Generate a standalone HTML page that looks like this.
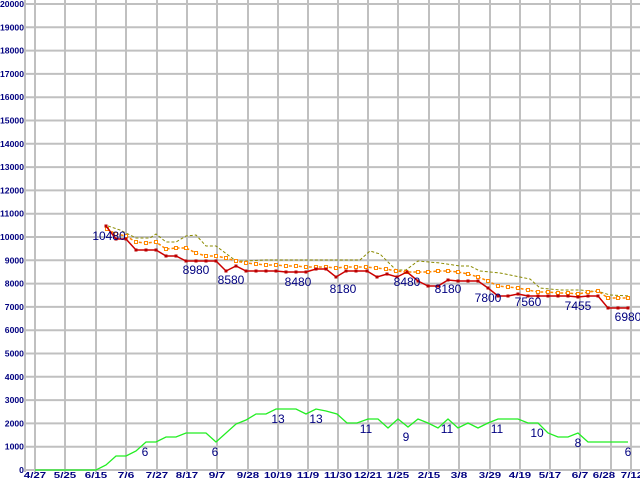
<!DOCTYPE html><html><head><style>body{margin:0;background:#fff}svg{display:block}</style></head><body>
<svg width="640" height="480" xmlns="http://www.w3.org/2000/svg" font-family="Liberation Sans, sans-serif">
<rect width="640" height="480" fill="#fff"/>
<g stroke="#c0c0c0" stroke-width="2" id="grid"></g>
<g id="g"></g>
<script>
const svgns="http://www.w3.org/2000/svg";
const grid=document.getElementById('grid'),g=document.getElementById('g');
function el(p,t,a,txt){const e=document.createElementNS(svgns,t);for(const k in a)e.setAttribute(k,a[k]);if(txt!==undefined)e.textContent=txt;p.appendChild(e);return e;}
for(let i=0;i<=20;i++){const y=470-i*23.3;el(grid,'line',{x1:25,x2:640,y1:y,y2:y});
const s=String(i*1000);const w=s.length*4.8;
el(g,'text',{x:24-w,y:y+3,'font-size':'8.5','font-weight':'bold',fill:'#000080',textLength:w,lengthAdjust:'spacingAndGlyphs'},s);}
const xs=[35,65,96,126,157,187,217,248,278,308,338,368,398,429,459,490,520,550,580,611,631];
const xl=['4/27','5/25','6/15','7/6','7/27','8/17','9/7','9/28','10/19','11/9','11/30','12/21','1/25','2/15','3/8','3/29','4/19','5/17','6/7','6/28','7/12'];
el(grid,'line',{x1:25,x2:25,y1:0,y2:472});
xs.forEach((x,i)=>{el(grid,'line',{x1:x,x2:x,y1:0,y2:472});
const w=xl[i].length*5.6;let cx=i==19?x-7:(i==20?x+1:x);
el(g,'text',{x:cx-w/2,y:478,'font-size':'8.5','font-weight':'bold',fill:'#000080',textLength:w,lengthAdjust:'spacingAndGlyphs'},xl[i]);});
function poly(pts,a){el(g,'polyline',Object.assign({points:pts.map(p=>p.join(',')).join(' '),fill:'none'},a));}
const green=[[35,470],[96,470],[106,465],[116,456],[126,456],[136,451],[146,442],[156,442],[166,437],[176,437],[186,433],[206,433],[216,442],[236,424],[246,420],[256,414],[266,414],[276,409],[296,409],[306,414],[316,409],[326,411],[337,414],[347,423],[357,423],[368,419],[378,419],[388,428],[398,419],[408,427],[418,419],[428,423],[438,428],[448,419],[458,428],[468,423],[478,428],[488,423],[498,419],[518,419],[528,423],[538,423],[548,433],[558,437],[568,437],[578,433],[588,442],[628,442]];
poly(green,{stroke:'#22ee22','stroke-width':1.3});
const olive=[[108,226],[120,230],[136,238],[150,238],[156,234],[166,242],[176,242],[186,236],[196,235],[206,246],[216,246],[236,261],[246,261],[266,260],[336,260],[360,260],[370,251],[380,254],[396,270],[406,270],[418,261],[440,263],[460,266],[470,266],[480,271],[500,273],[530,279],[540,288],[560,290],[580,290],[600,292],[610,295],[630,296]];
poly(olive,{stroke:'#8b8b00','stroke-width':1,'stroke-dasharray':'3,2'});
const orange=[[107,229],[116,234],[126,236],[136,242],[146,243],[156,242],[166,249],[176,248],[186,248],[196,253],[206,256],[216,256],[226,258],[236,261],[246,263],[256,264],[266,265],[276,265],[286,266],[296,266],[306,267],[316,267],[326,267],[336,268],[346,267],[356,267],[366,267],[376,268],[386,269],[396,271],[406,272],[418,272],[428,272],[438,271],[448,271],[458,272],[468,274],[478,277],[488,281],[498,286],[508,287],[518,288],[528,290],[538,292],[548,292],[558,293],[568,293],[578,294],[588,292],[598,291],[608,298],[618,298],[628,298]];
poly(orange,{stroke:'#ff8800','stroke-width':1.5,'stroke-dasharray':'3,2'});
orange.forEach(p=>el(g,'rect',{x:p[0]-1.5,y:p[1]-1.5,width:3,height:3,fill:'#fff',stroke:'#ff8800','stroke-width':1}));
const red=[[106,226],[116,239],[126,239],[136,250],[146,250],[156,250],[166,256],[176,256],[186,261],[196,261],[206,261],[216,261],[226,271],[236,266],[246,271],[256,271],[266,271],[276,271],[286,272],[296,272],[306,272],[316,269],[326,269],[336,277],[346,271],[356,271],[367,271],[377,277],[387,274],[397,277],[407,272],[418,281],[428,286],[438,286],[448,280],[458,281],[468,281],[478,281],[488,288],[498,296],[508,296],[518,294],[528,296],[538,296],[548,296],[558,296],[568,296],[578,297],[588,296],[598,296],[608,308],[618,308],[628,308]];
poly(red,{stroke:'#cc0000','stroke-width':1.5});
red.forEach(p=>el(g,'rect',{x:p[0]-1.5,y:p[1]-1.5,width:3,height:3,fill:'#bb0000'}));
const lab=[[109,240,'10480'],[196,274,'8980'],[231,284,'8580'],[298,286,'8480'],[343,293,'8180'],[407,286,'8480'],[448,293,'8180'],[488,302,'7800'],[528,306,'7560'],[578,310,'7455'],[628,321,'6980'],
[145,456,'6'],[215,456,'6'],[278,423,'13'],[316,423,'13'],[366,433,'11'],[406,441,'9'],[447,433,'11'],[497,433,'11'],[537,437,'10'],[578,447,'8'],[628,456,'6']];
lab.forEach(l=>el(g,'text',{x:l[0],y:l[1],'text-anchor':'middle','font-size':'12',fill:'#000080'},l[2]));
</script>
</svg></body></html>
